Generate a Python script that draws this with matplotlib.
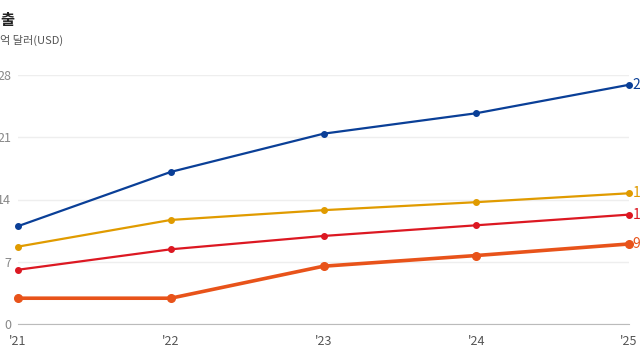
import matplotlib
matplotlib.use("Agg")
import matplotlib.pyplot as plt

plt.rcParams['font.family'] = ['Noto Sans CJK KR', 'DejaVu Sans']

years = ["'21", "'22", "'23", "'24", "'25"]
blue = [11.0, 17.1, 21.4, 23.7, 26.9]
yellow = [8.7, 11.7, 12.8, 13.7, 14.7]
red = [6.1, 8.4, 9.9, 11.1, 12.3]
orange = [2.9, 2.9, 6.5, 7.7, 9.0]
end_labels = ["27", "15", "12", "9"]
yticks = [0, 7, 14, 21, 28]

colors = ["#0a3f97", "#e09b00", "#dc1822", "#e8531a"]
series = [blue, yellow, red, orange]
widths = [1.6, 1.6, 1.6, 2.6]
msizes = [4, 4, 4, 5.5]

fig = plt.figure(figsize=(6.4, 3.6), dpi=100)
ax = fig.add_axes([18/640, 36/360, 611/640, 249/360])
x = list(range(len(years)))
for s, c, w, m in zip(series, colors, widths, msizes):
    ax.plot(x, s, color=c, lw=w, marker='o', ms=m, clip_on=False, zorder=3)
for s, c, lab in zip(series, colors, end_labels):
    ax.annotate(lab, (x[-1], s[-1]), xytext=(2.5, 0), textcoords='offset points',
                color=c, fontsize=10, va='center', ha='left', annotation_clip=False)

ax.set_xlim(0, 4)
ax.set_ylim(0, 28)
ax.set_yticks(yticks)
ax.set_xticks(x)
ax.set_xticklabels(years)
for sp in ['top', 'right', 'left']:
    ax.spines[sp].set_visible(False)
ax.spines['bottom'].set_color('#bbbbbb')
ax.grid(axis='y', color='#eeeeee', lw=1)
ax.set_axisbelow(True)
ax.tick_params(axis='y', length=0, pad=5, labelsize=9, labelcolor='#888888')
ax.tick_params(axis='x', length=0, pad=8, labelsize=9, labelcolor='#555555')

fig.text(0/640, 1 - 20/360, "출", fontsize=11, fontweight='bold', color='#222222', va='center', ha='left')
fig.text(0/640, 1 - 40/360, "억 달러(USD)", fontsize=8, color='#555555', va='center', ha='left')

fig.savefig("out.png", dpi=100)
